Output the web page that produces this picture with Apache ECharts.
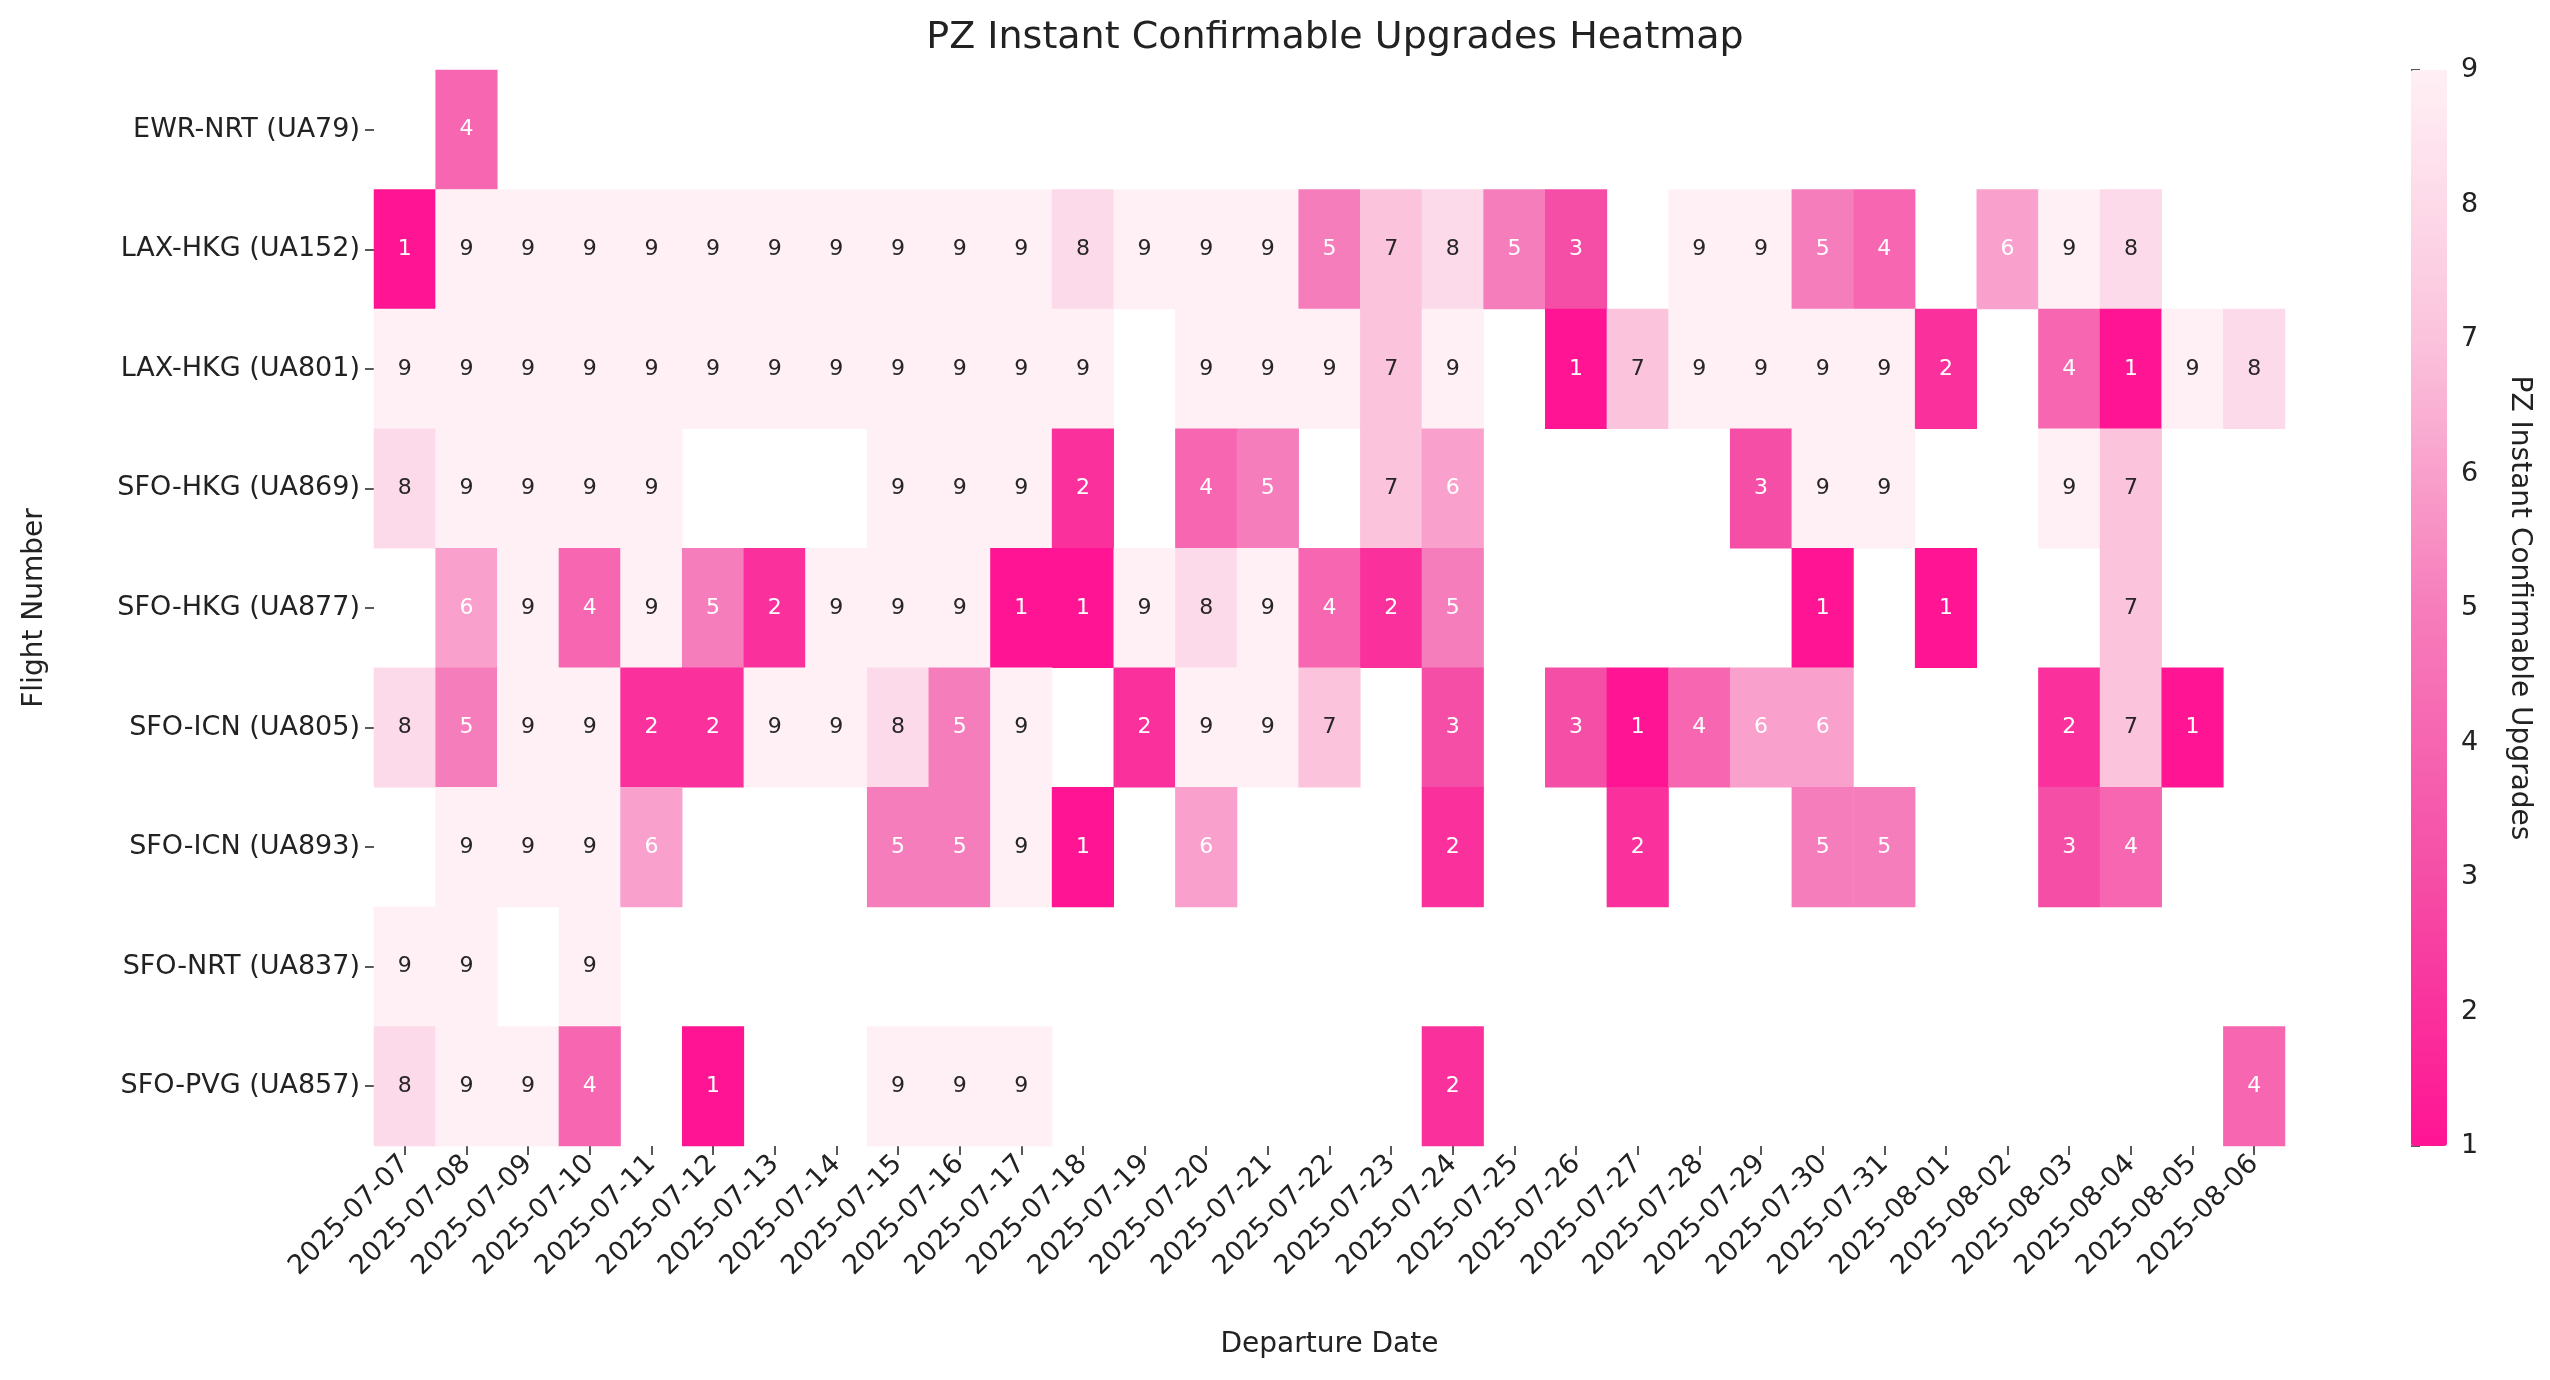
<!DOCTYPE html>
<html>
<head>
<meta charset="utf-8">
<script src="https://cdn.jsdelivr.net/npm/echarts@6/dist/echarts.min.js"></script>
<style>
  html, body { margin: 0; padding: 0; background: #fff; }
  #chart { width: 2550px; height: 1380px; }
</style>
</head>
<body>
<div id="chart"></div>
<script>
const dates = ['2025-07-07','2025-07-08','2025-07-09','2025-07-10','2025-07-11','2025-07-12','2025-07-13',
  '2025-07-14','2025-07-15','2025-07-16','2025-07-17','2025-07-18','2025-07-19','2025-07-20','2025-07-21',
  '2025-07-22','2025-07-23','2025-07-24','2025-07-25','2025-07-26','2025-07-27','2025-07-28','2025-07-29',
  '2025-07-30','2025-07-31','2025-08-01','2025-08-02','2025-08-03','2025-08-04','2025-08-05','2025-08-06'];
const flights = ['EWR-NRT (UA79)','LAX-HKG (UA152)','LAX-HKG (UA801)','SFO-HKG (UA869)','SFO-HKG (UA877)',
  'SFO-ICN (UA805)','SFO-ICN (UA893)','SFO-NRT (UA837)','SFO-PVG (UA857)'];
const _ = null;
// one row per flight, one value per date (null = no data)
const ua79  = [_,4,_,_,_,_,_,_,_,_,_,_,_,_,_,_,_,_,_,_,_,_,_,_,_,_,_,_,_,_,_];
const ua152 = [1,9,9,9,9,9,9,9,9,9,9,8,9,9,9,5,7,8,5,3,_,9,9,5,4,_,6,9,8,_,_];
const ua801 = [9,9,9,9,9,9,9,9,9,9,9,9,_,9,9,9,7,9,_,1,7,9,9,9,9,2,_,4,1,9,8];
const ua869 = [8,9,9,9,9,_,_,_,9,9,9,2,_,4,5,_,7,6,_,_,_,_,3,9,9,_,_,9,7,_,_];
const ua877 = [_,6,9,4,9,5,2,9,9,9,1,1,9,8,9,4,2,5,_,_,_,_,_,1,_,1,_,_,7,_,_];
const ua805 = [8,5,9,9,2,2,9,9,8,5,9,_,2,9,9,7,_,3,_,3,1,4,6,6,_,_,_,2,7,1,_];
const ua893 = [_,9,9,9,6,_,_,_,5,5,9,1,_,6,_,_,_,2,_,_,2,_,_,5,5,_,_,3,4,_,_];
const ua837 = [9,9,_,9,_,_,_,_,_,_,_,_,_,_,_,_,_,_,_,_,_,_,_,_,_,_,_,_,_,_,_];
const ua857 = [8,9,9,4,_,1,_,_,9,9,9,_,_,_,_,_,_,2,_,_,_,_,_,_,_,_,_,_,_,_,4];
const rows = [ua79, ua152, ua801, ua869, ua877, ua805, ua893, ua837, ua857];

const data = [];
rows.forEach((row, y) => row.forEach((v, x) => {
  if (v !== null) data.push({ value: [x, y, v], label: { color: v <= 6 ? '#ffffff' : '#262626' } });
}));

const font = 'DejaVu Sans';
const hiddenLine = { show: true, lineStyle: { color: 'rgba(0,0,0,0)' } };
const tick = { show: true, alignWithLabel: true, length: 9, lineStyle: { color: '#222', width: 1.5 } };
const chart = echarts.init(document.getElementById('chart'));
chart.setOption({
  animation: false,
  textStyle: { fontFamily: font, color: '#222' },
  title: { text: 'PZ Instant Confirmable Upgrades Heatmap', left: 1330, top: 14, textAlign: 'center',
    textStyle: { fontFamily: font, fontSize: 38, fontWeight: 'normal', color: '#222' } },
  grid: [
    { left: 374, top: 70, width: 1911, height: 1076 },
    { left: 2411, top: 70, width: 36, height: 1076 }
  ],
  xAxis: [
    { type: 'category', data: dates, gridIndex: 0, axisLine: hiddenLine, axisTick: tick,
      axisLabel: { rotate: 45, fontSize: 27, color: '#222', interval: 0, margin: 14 },
      name: 'Departure Date', nameLocation: 'middle', nameGap: 185, nameTextStyle: { fontSize: 28, color: '#222' } },
    { type: 'value', gridIndex: 1, show: false, min: 0, max: 1 }
  ],
  yAxis: [
    { type: 'category', data: flights, inverse: true, gridIndex: 0, axisLine: hiddenLine, axisTick: tick,
      axisLabel: { fontSize: 27, color: '#222', margin: 14 },
      name: 'Flight Number', nameLocation: 'middle', nameGap: 325, nameTextStyle: { fontSize: 28, color: '#222' } },
    { type: 'value', gridIndex: 1, position: 'right', min: 1, max: 9, interval: 1,
      axisLine: hiddenLine, splitLine: { show: false },
      axisTick: { show: true, length: 9, lineStyle: { color: '#222', width: 1.5 } },
      axisLabel: { fontSize: 27, color: '#222', margin: 14 },
      name: 'PZ Instant Confirmable Upgrades', nameLocation: 'middle', nameGap: 58, nameRotate: -90,
      nameTextStyle: { fontSize: 28, color: '#222' } }
  ],
  visualMap: {
    type: 'continuous', min: 1, max: 9, seriesIndex: 0, calculable: false, show: true,
    left: 2411, top: 70, padding: 0, itemWidth: 36, itemHeight: 1076, text: null, showLabel: false,
    inRange: { color: ['#ff1493', '#f54ea6', '#f67dbb', '#fbc3dc', '#fff0f5'] }
  },
  series: [
    { type: 'heatmap', data: data, xAxisIndex: 0, yAxisIndex: 0,
      label: { show: true, fontSize: 22, fontFamily: font, formatter: p => p.value[2] },
      itemStyle: { borderWidth: 0 } },
    { type: 'scatter', xAxisIndex: 1, yAxisIndex: 1, data: [], silent: true }
  ]
});
</script>
</body>
</html>
